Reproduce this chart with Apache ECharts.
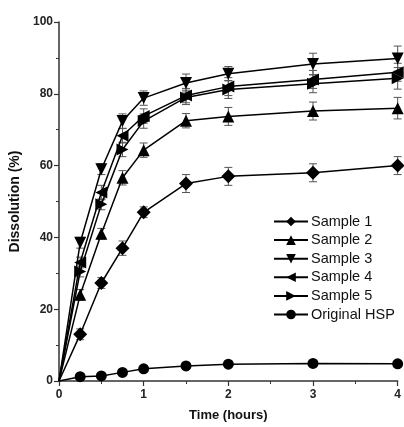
<!DOCTYPE html>
<html>
<head>
<meta charset="utf-8">
<script src="https://cdn.jsdelivr.net/npm/echarts@6/dist/echarts.min.js"></script>
<style>
  html, body { margin: 0; padding: 0; background: #fff; }
  #chart { width: 404px; height: 427px; }
</style>
</head>
<body>
<div id="chart"></div>
<script>
const times = [0, 0.25, 0.5, 0.75, 1, 1.5, 2, 3, 4];

const sample1 = [0, 13, 27.3, 37, 47, 55, 57, 58, 60];
const sample2 = [0, 24, 41, 56.6, 64.3, 72.5, 73.7, 75.2, 76];
const sample3 = [0, 38.5, 59, 72.4, 78.8, 83, 85.6, 88.3, 89.8];
const sample4 = [0, 33, 52.5, 68.3, 73.8, 79.5, 82, 84, 86];
const sample5 = [0, 30.5, 49.2, 64.5, 72.4, 79, 81.2, 82.8, 84.3];
const hsp     = [0, 1.2, 1.4, 2.4, 3.4, 4.2, 4.7, 4.9, 4.8];

const err1 = [0, 1.5, 1.5, 2, 1.5, 2.5, 2.5, 2.5, 2.5];
const err2 = [0, 1.5, 1.5, 2, 2, 2, 2.5, 2.5, 3];
const err3 = [0, 1.5, 1.5, 2, 2, 2.5, 2, 3, 3.5];
const err4 = [0, 1.5, 2, 2, 2, 2, 2.5, 2.5, 2.5];
const err5 = [0, 1.5, 1.5, 2, 2, 2, 2.5, 2.5, 3];
const errH = [0, 0.3, 0.3, 0.4, 0.4, 0.4, 0.4, 0.4, 0.4];

const seriesNames = ['Sample 1', 'Sample 2', 'Sample 3', 'Sample 4', 'Sample 5', 'Original HSP'];

const chart = echarts.init(document.getElementById('chart'));

function lineSeries(name, values, symbol, size, rotate) {
    return {
        name: name,
        type: 'line',
        // no marker at the origin point
        data: times.map((t, i) => t === 0 ? { value: [t, values[i]], symbol: 'none' } : [t, values[i]]),
        symbol: symbol,
        symbolSize: size,
        symbolRotate: rotate || 0,
        showAllSymbol: true,
        z: 3,
        lineStyle: { color: '#000', width: 1.5 },
        itemStyle: { color: '#000', borderWidth: 0 }
    };
}

function errorSeries(values, errs) {
    return {
        type: 'custom',
        silent: true,
        z: 2,
        data: times.map((t, i) => [t, values[i], errs[i]]),
        renderItem: function (params, api) {
            const x = api.value(0), y = api.value(1), e = api.value(2);
            if (!e) return null;
            const top = api.coord([x, y + e]);
            const bot = api.coord([x, y - e]);
            const hw = 4;
            const style = { stroke: '#555', lineWidth: 1 };
            return {
                type: 'group',
                children: [
                    { type: 'line', shape: { x1: top[0], y1: top[1], x2: bot[0], y2: bot[1] }, style: style },
                    { type: 'line', shape: { x1: top[0] - hw, y1: top[1], x2: top[0] + hw, y2: top[1] }, style: style },
                    { type: 'line', shape: { x1: bot[0] - hw, y1: bot[1], x2: bot[0] + hw, y2: bot[1] }, style: style }
                ]
            };
        }
    };
}

const axisFont = { fontFamily: 'Liberation Sans', fontWeight: 'bold', fontSize: 12, color: '#222' };

chart.setOption({
    animation: false,
    grid: { left: 57, right: 5, top: 22, bottom: 45 },
    legend: {
        data: seriesNames,
        orient: 'vertical',
        left: 268,
        top: 209,
        itemWidth: 34,
        itemHeight: 12,
        itemGap: 3.6,
        textStyle: { fontFamily: 'Liberation Sans', fontSize: 14.5, lineHeight: 15, color: '#111', padding: [0, 0, 0, -2] }
    },
    xAxis: {
        type: 'value',
        min: 0,
        max: 4,
        interval: 1,
        name: 'Time (hours)',
        nameLocation: 'middle',
        nameGap: 28,
        nameTextStyle: { fontFamily: 'Liberation Sans', fontWeight: 'bold', fontSize: 13, color: '#111' },
        axisLine: { lineStyle: { color: '#333', width: 1.5 } },
        axisTick: { length: 5, lineStyle: { color: '#333', width: 1.2 } },
        minorTick: { show: true, splitNumber: 2, length: 3, lineStyle: { color: '#333' } },
        splitLine: { show: false },
        axisLabel: Object.assign({ margin: 8 }, axisFont)
    },
    yAxis: {
        type: 'value',
        min: 0,
        max: 100,
        interval: 20,
        name: 'Dissolution (%)',
        nameLocation: 'middle',
        nameGap: 37,
        nameTextStyle: { fontFamily: 'Liberation Sans', fontWeight: 'bold', fontSize: 14, color: '#111' },
        axisLine: { show: true, lineStyle: { color: '#333', width: 1.5 } },
        axisTick: { show: true, length: 5, lineStyle: { color: '#333', width: 1.2 } },
        minorTick: { show: true, splitNumber: 2, length: 3, lineStyle: { color: '#333' } },
        splitLine: { show: false },
        axisLabel: Object.assign({ margin: 6 }, axisFont)
    },
    series: [
        errorSeries(sample1, err1),
        errorSeries(sample2, err2),
        errorSeries(sample3, err3),
        errorSeries(sample4, err4),
        errorSeries(sample5, err5),
        errorSeries(hsp, errH),
        lineSeries('Sample 1', sample1, 'diamond', 14),
        lineSeries('Sample 2', sample2, 'triangle', 12),
        lineSeries('Sample 3', sample3, 'triangle', 12, 180),
        lineSeries('Sample 4', sample4, 'triangle', 12, 90),
        lineSeries('Sample 5', sample5, 'triangle', 12, -90),
        lineSeries('Original HSP', hsp, 'circle', 11)
    ]
});
</script>
</body>
</html>
